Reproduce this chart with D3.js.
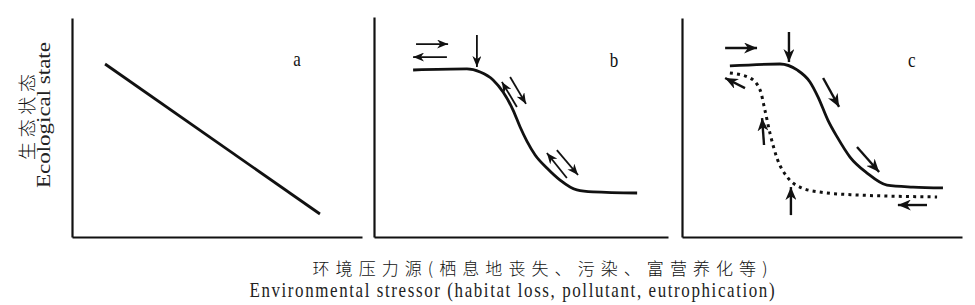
<!DOCTYPE html>
<html>
<head>
<meta charset="utf-8">
<script src="https://cdn.jsdelivr.net/npm/d3@7"></script>
<style>
  body { margin: 0; background: #fff; }
  svg { display: block; }
</style>
</head>
<body>
<div id="chart"></div>
<script>
// values are in panel units: x 0..100 along the stressor axis, y 0..100 along ecological state
const panelNames = ['a', 'b', 'c'];
const panelLabelPos = [[77.6, 78.0], [81.6, 77.3], [82.1, 77.6]];

// a: linear response
const linearResponse = [[11.4, 79.0], [85.5, 10.5]];

// b: nonlinear (threshold) response
const thresholdResponse = [
  [13.3, 75.9], [31.6, 76.4], [36.1, 75.0], [40.5, 71.4], [43.9, 65.9],
  [47.3, 57.7], [49.7, 50.0], [52.0, 43.6], [54.8, 37.3], [58.8, 31.4],
  [63.3, 25.9], [69.0, 21.4], [74.5, 20.5], [89.5, 20.0]
];

// c: hysteresis, forward (solid) and recovery (dotted) paths
const forwardPath = [
  [17.1, 78.1], [35.0, 79.0], [41.1, 76.3], [45.7, 70.8], [48.6, 63.9],
  [52.1, 53.4], [55.4, 45.7], [60.0, 36.5], [66.1, 29.2], [73.2, 23.7],
  [82.5, 22.8], [93.2, 22.4]
];
const recoveryPath = [
  [17.1, 74.9], [24.3, 72.6], [27.9, 67.1], [29.6, 58.0], [31.4, 47.5],
  [33.9, 36.1], [37.9, 26.9], [42.1, 22.8], [49.3, 20.5], [62.5, 19.2],
  [91.1, 18.3]
];

// arrows: [x1, y1, x2, y2] (head at x2, y2)
const arrowsB = [
  [14.3, 87.7, 25.2, 87.7],
  [24.8, 81.8, 13.3, 81.8],
  [35.0, 91.8, 35.0, 77.3],
  [48.6, 59.1, 43.5, 70.5],
  [46.3, 72.7, 51.7, 60.5],
  [65.6, 26.8, 58.8, 38.2],
  [62.2, 39.5, 69.4, 28.2]
];
const arrowsC = [
  [15.4, 86.3, 26.8, 86.3],
  [38.2, 93.6, 38.2, 79.9],
  [50.4, 72.6, 56.1, 59.4],
  [62.5, 41.1, 70.4, 29.7],
  [22.5, 68.0, 15.4, 72.6],
  [29.3, 42.0, 28.6, 54.3],
  [38.9, 10.0, 38.9, 22.8],
  [87.5, 14.6, 77.1, 14.6]
];

const yLabels = ['生态状态', 'Ecological state'];
const xLabels = [
  '环境压力源(栖息地丧失、污染、富营养化等)',
  'Environmental stressor (habitat loss, pollutant, eutrophication)'
];

const width = 975, height = 305;
const serif = "'Liberation Serif', 'Times New Roman', serif";
const cjk = "'Noto Sans CJK SC', sans-serif";

const panels = [
  { left: 72, right: 362, top: 18, bottom: 237 },
  { left: 374, right: 668, top: 17, bottom: 237 },
  { left: 682, right: 962, top: 18, bottom: 237 }
];

const svg = d3.select('#chart').append('svg')
  .attr('width', width)
  .attr('height', height);

// arrow heads
const defs = svg.append('defs');
[['headB', 11, 4.5], ['headC', 13, 5.5]].forEach(([id, len, half]) => {
  defs.append('marker')
    .attr('id', id)
    .attr('viewBox', `${-len} ${-half} ${len} ${half * 2}`)
    .attr('refX', 0).attr('refY', 0)
    .attr('markerWidth', len).attr('markerHeight', half * 2)
    .attr('markerUnits', 'userSpaceOnUse')
    .attr('orient', 'auto')
    .append('path')
    .attr('d', `M0,0 L${-len},${-half} L${-len * 0.7},0 L${-len},${half} Z`)
    .attr('fill', '#111');
});

const line = d3.line().curve(d3.curveMonotoneX);

panels.forEach((p, i) => {
  p.x = d3.scaleLinear().domain([0, 100]).range([p.left, p.right]);
  p.y = d3.scaleLinear().domain([0, 100]).range([p.bottom, p.top]);

  const g = svg.append('g');

  // axes: plain lines, no ticks
  g.append('g')
    .attr('transform', `translate(0,${p.bottom})`)
    .call(d3.axisBottom(p.x).tickValues([]).tickSizeOuter(0));
  g.append('g')
    .attr('transform', `translate(${p.left},0)`)
    .call(d3.axisLeft(p.y).tickValues([]).tickSizeOuter(0));
  g.selectAll('.domain')
    .attr('stroke', '#111')
    .attr('stroke-width', 2.2);

  g.append('text')
    .attr('transform', `translate(${p.x(panelLabelPos[i][0])},${p.y(panelLabelPos[i][1])}) scale(0.85,1)`)
    .attr('text-anchor', 'middle')
    .attr('font-family', serif)
    .attr('font-size', 20)
    .attr('fill', '#111')
    .text(panelNames[i]);

  p.g = g;
});

function drawCurve(p, data, dashed) {
  p.g.append('path')
    .datum(data.map(d => [p.x(d[0]), p.y(d[1])]))
    .attr('d', line)
    .attr('fill', 'none')
    .attr('stroke', '#111')
    .attr('stroke-width', dashed ? 3 : 2.8)
    .attr('stroke-dasharray', dashed ? '3,4.2' : null);
}

function drawArrows(p, data, head, w) {
  p.g.selectAll(null)
    .data(data)
    .join('line')
    .attr('x1', d => p.x(d[0]))
    .attr('y1', d => p.y(d[1]))
    .attr('x2', d => p.x(d[2]))
    .attr('y2', d => p.y(d[3]))
    .attr('stroke', '#111')
    .attr('stroke-width', w)
    .attr('marker-end', `url(#${head})`);
}

drawCurve(panels[0], linearResponse, false);
drawCurve(panels[1], thresholdResponse, false);
drawCurve(panels[2], forwardPath, false);
drawCurve(panels[2], recoveryPath, true);
drawArrows(panels[1], arrowsB, 'headB', 1.8);
drawArrows(panels[2], arrowsC, 'headC', 2.4);

// y axis title (rotated, stretched along its length like the source)
svg.append('text')
  .attr('transform', 'translate(26,117) rotate(-90)')
  .attr('text-anchor', 'middle')
  .attr('dominant-baseline', 'central')
  .attr('textLength', 86)
  .attr('lengthAdjust', 'spacing')
  .attr('font-family', cjk)
  .attr('font-weight', 300)
  .attr('font-size', 18)
  .attr('fill', '#111')
  .text(yLabels[0]);

svg.append('text')
  .attr('transform', 'translate(50,115) rotate(-90) scale(1.28,1)')
  .attr('text-anchor', 'middle')
  .attr('textLength', 114)
  .attr('lengthAdjust', 'spacing')
  .attr('font-family', serif)
  .attr('font-size', 18)
  .attr('fill', '#222')
  .text(yLabels[1]);

// x axis title
svg.append('text')
  .attr('x', 540)
  .attr('y', 267)
  .attr('text-anchor', 'middle')
  .attr('dominant-baseline', 'central')
  .attr('textLength', 455)
  .attr('lengthAdjust', 'spacing')
  .attr('font-family', cjk)
  .attr('font-weight', 300)
  .attr('font-size', 17)
  .attr('fill', '#111')
  .text(xLabels[0]);

svg.append('text')
  .attr('transform', 'translate(512,297) scale(0.77,1)')
  .attr('text-anchor', 'middle')
  .attr('textLength', 682)
  .attr('lengthAdjust', 'spacing')
  .attr('font-family', serif)
  .attr('font-size', 22)
  .attr('fill', '#222')
  .text(xLabels[1]);
</script>
</body>
</html>
